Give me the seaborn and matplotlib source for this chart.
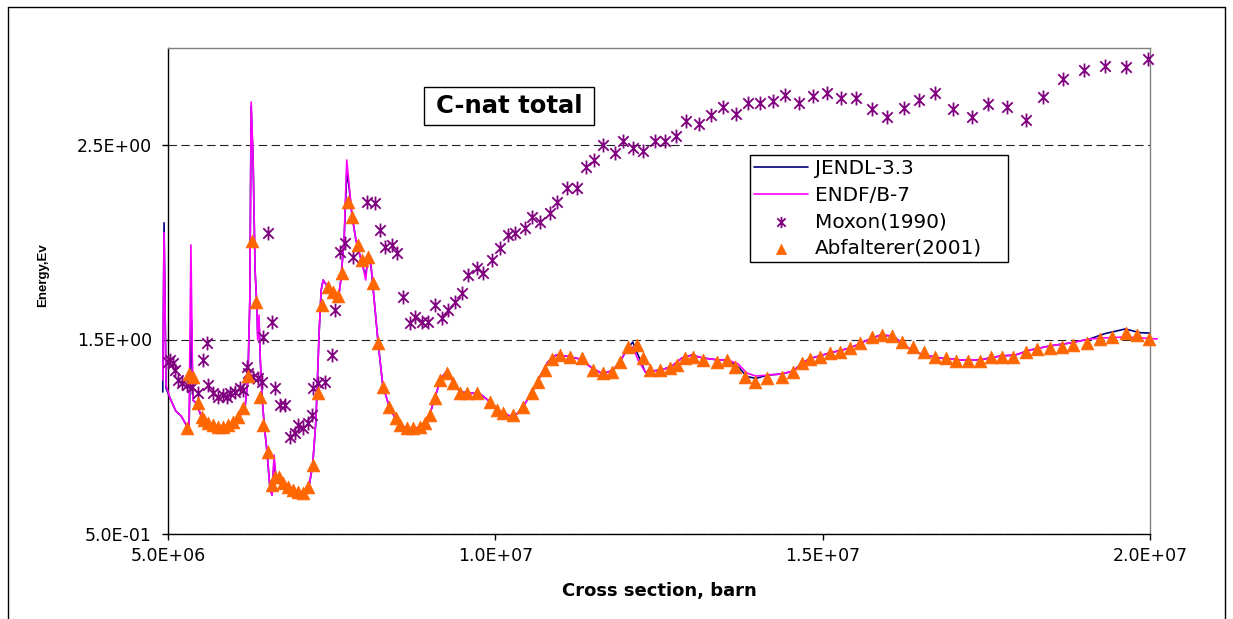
import numpy as np
import matplotlib
matplotlib.use("Agg")
import matplotlib.pyplot as plt
import seaborn as sns
from matplotlib.path import Path
from matplotlib.lines import Line2D
from matplotlib.patches import Rectangle

# ---------------- data (x in units of 1e6) ----------------
endf_x = [4.92, 4.94, 4.97, 5.03, 5.12, 5.20, 5.27, 5.32, 5.35, 5.38, 5.44, 5.50, 5.58, 5.69,
          5.84, 5.99, 6.10, 6.18, 6.22, 6.25, 6.27, 6.30, 6.33, 6.36, 6.37, 6.39, 6.41, 6.44,
          6.47, 6.51, 6.56, 6.59, 6.62, 6.65, 6.76, 6.86, 6.97, 7.08, 7.15, 7.21, 7.26, 7.31,
          7.34, 7.37, 7.44, 7.54, 7.60, 7.64, 7.69, 7.73, 7.76, 7.81, 7.87, 7.93, 7.99, 8.02,
          8.05, 8.10, 8.15, 8.21, 8.28, 8.38, 8.48, 8.62, 8.77, 8.91, 9.00, 9.09, 9.17, 9.25,
          9.34, 9.46, 9.61, 9.77, 9.92, 10.07, 10.22, 10.33, 10.44, 10.56, 10.68, 10.80, 10.93,
          11.08, 11.29, 11.48, 11.64, 11.80, 11.92, 12.01, 12.10, 12.18, 12.29, 12.39, 12.54,
          12.70, 12.85, 13.00, 13.17, 13.40, 13.55, 13.71, 13.84, 13.98, 14.16, 14.38, 14.55,
          14.70, 14.84, 15.11, 15.42, 15.65, 15.88, 16.07, 16.23, 16.37, 16.56, 16.79, 17.10,
          17.40, 17.71, 17.94, 18.17, 18.47, 18.78, 19.08, 19.31, 19.62, 19.85, 20.11]
endf_y = [1.292, 2.050, 1.266, 1.199, 1.132, 1.107, 1.066, 1.035, 1.986, 1.189, 1.168, 1.112,
          1.081, 1.060, 1.045, 1.071, 1.107, 1.163, 1.292, 1.703, 2.721, 2.423, 1.857, 1.652,
          1.497, 1.626, 1.395, 1.189, 1.060, 0.932, 0.726, 0.700, 0.906, 0.788, 0.767, 0.737,
          0.711, 0.701, 0.737, 0.855, 1.086, 1.549, 1.754, 1.806, 1.770, 1.739, 1.703, 1.806,
          2.012, 2.423, 2.320, 2.140, 2.012, 1.934, 1.857, 1.806, 1.909, 1.883, 1.703, 1.482,
          1.266, 1.153, 1.091, 1.045, 1.040, 1.066, 1.117, 1.215, 1.302, 1.333, 1.292, 1.230,
          1.225, 1.220, 1.179, 1.132, 1.107, 1.117, 1.163, 1.230, 1.307, 1.384, 1.420, 1.415,
          1.400, 1.353, 1.323, 1.343, 1.395, 1.446, 1.461, 1.395, 1.333, 1.338, 1.343, 1.364,
          1.405, 1.420, 1.405, 1.395, 1.395, 1.374, 1.328, 1.312, 1.317, 1.323, 1.338, 1.384,
          1.405, 1.431, 1.456, 1.492, 1.523, 1.518, 1.477, 1.441, 1.420, 1.405, 1.395, 1.395,
          1.415, 1.420, 1.446, 1.467, 1.482, 1.503, 1.508, 1.513, 1.508, 1.503]

jendl_x = [4.92, 4.94, 4.97, 5.03, 5.12, 5.20, 5.27, 5.32, 5.36, 5.38, 5.44, 5.50, 5.58, 5.69,
           5.84, 5.99, 6.10, 6.18, 6.22, 6.25, 6.27, 6.30, 6.33, 6.36, 6.37, 6.39, 6.41, 6.44,
           6.47, 6.51, 6.56, 6.59, 6.62, 6.65, 6.76, 6.86, 6.97, 7.08, 7.15, 7.21, 7.26, 7.31,
           7.34, 7.37, 7.44, 7.54, 7.60, 7.64, 7.69, 7.73, 7.76, 7.81, 7.87, 7.93, 7.99, 8.02,
           8.05, 8.10, 8.15, 8.21, 8.28, 8.38, 8.48, 8.62, 8.77, 8.91, 9.00, 9.09, 9.17, 9.25,
           9.34, 9.46, 9.61, 9.77, 9.92, 10.07, 10.22, 10.33, 10.44, 10.56, 10.68, 10.80, 10.93,
           11.08, 11.29, 11.48, 11.64, 11.80, 11.92, 12.01, 12.10, 12.18, 12.29, 12.39, 12.54,
           12.70, 12.85, 13.00, 13.17, 13.40, 13.55, 13.71, 13.84, 13.98, 14.16, 14.38, 14.55,
           14.70, 14.84, 15.11, 15.42, 15.65, 15.88, 16.07, 16.23, 16.37, 16.56, 16.79, 17.10,
           17.40, 17.71, 17.94, 18.17, 18.47, 18.78, 19.08, 19.31, 19.62, 19.85, 20.00]
jendl_y = [1.230, 2.100, 1.250, 1.199, 1.132, 1.107, 1.066, 1.035, 1.600, 1.189, 1.168, 1.112,
           1.081, 1.060, 1.045, 1.071, 1.107, 1.163, 1.292, 1.703, 2.700, 2.423, 1.857, 1.652,
           1.520, 1.600, 1.395, 1.189, 1.060, 0.932, 0.726, 0.700, 0.880, 0.788, 0.767, 0.737,
           0.711, 0.701, 0.737, 0.855, 1.086, 1.549, 1.754, 1.806, 1.770, 1.739, 1.703, 1.806,
           2.012, 2.350, 2.300, 2.140, 2.012, 1.934, 1.857, 1.830, 1.909, 1.883, 1.703, 1.482,
           1.266, 1.153, 1.091, 1.045, 1.040, 1.066, 1.117, 1.215, 1.302, 1.333, 1.292, 1.230,
           1.225, 1.220, 1.179, 1.132, 1.107, 1.117, 1.163, 1.230, 1.307, 1.384, 1.420, 1.415,
           1.400, 1.353, 1.323, 1.343, 1.395, 1.450, 1.487, 1.420, 1.333, 1.338, 1.343, 1.364,
           1.405, 1.420, 1.405, 1.395, 1.395, 1.360, 1.310, 1.300, 1.317, 1.323, 1.338, 1.384,
           1.405, 1.431, 1.456, 1.492, 1.523, 1.518, 1.477, 1.441, 1.420, 1.405, 1.395, 1.395,
           1.415, 1.420, 1.446, 1.467, 1.482, 1.503, 1.530, 1.554, 1.535, 1.533]

moxon_x = [5.00, 5.03, 5.08, 5.11, 5.15, 5.21, 5.29, 5.37, 5.46, 5.53, 5.60, 5.61, 5.69, 5.76,
           5.84, 5.90, 5.95, 6.02, 6.10, 6.15, 6.21, 6.22, 6.30, 6.37, 6.44, 6.45, 6.53, 6.59,
           6.63, 6.71, 6.79, 6.86, 6.94, 6.99, 7.06, 7.14, 7.20, 7.21, 7.29, 7.40, 7.50, 7.55,
           7.63, 7.70, 7.83, 8.04, 8.16, 8.24, 8.31, 8.42, 8.50, 8.59, 8.70, 8.77, 8.88, 8.97,
           9.08, 9.19, 9.28, 9.38, 9.49, 9.58, 9.72, 9.81, 9.95, 10.07, 10.19, 10.30, 10.45,
           10.56, 10.68, 10.83, 10.94, 11.09, 11.25, 11.38, 11.51, 11.64, 11.83, 11.95, 12.10,
           12.26, 12.44, 12.59, 12.76, 12.91, 13.11, 13.29, 13.48, 13.68, 13.86, 14.04, 14.24,
           14.42, 14.64, 14.85, 15.07, 15.28, 15.51, 15.75, 15.98, 16.24, 16.47, 16.72, 16.99,
           17.28, 17.52, 17.82, 18.11, 18.36, 18.67, 18.99, 19.31, 19.63, 19.97]
moxon_y = [1.384, 1.395, 1.379, 1.343, 1.292, 1.276, 1.266, 1.256, 1.225, 1.395, 1.482, 1.266,
           1.225, 1.204, 1.215, 1.204, 1.225, 1.230, 1.251, 1.240, 1.359, 1.328, 1.307, 1.302,
           1.281, 1.513, 2.048, 1.590, 1.251, 1.163, 1.163, 0.999, 1.019, 1.060, 1.045, 1.071,
           1.112, 1.251, 1.276, 1.281, 1.420, 1.652, 1.950, 1.996, 1.924, 2.207, 2.202, 2.063,
           1.976, 1.986, 1.945, 1.719, 1.585, 1.616, 1.590, 1.590, 1.677, 1.611, 1.652, 1.693,
           1.739, 1.832, 1.868, 1.842, 1.909, 1.970, 2.037, 2.048, 2.073, 2.130, 2.104, 2.150,
           2.207, 2.279, 2.279, 2.387, 2.423, 2.500, 2.459, 2.521, 2.485, 2.469, 2.521, 2.521,
           2.546, 2.623, 2.608, 2.654, 2.695, 2.659, 2.716, 2.716, 2.726, 2.757, 2.716, 2.752,
           2.767, 2.742, 2.742, 2.685, 2.644, 2.690, 2.731, 2.767, 2.685, 2.644, 2.711, 2.695,
           2.629, 2.747, 2.839, 2.886, 2.906, 2.901, 2.942]

abf_x = [5.29, 5.32, 5.38, 5.46, 5.52, 5.55, 5.61, 5.69, 5.76, 5.84, 5.92, 5.99, 6.07, 6.15,
         6.22, 6.28, 6.34, 6.41, 6.45, 6.53, 6.59, 6.63, 6.70, 6.76, 6.83, 6.91, 6.99, 7.06,
         7.14, 7.21, 7.29, 7.35, 7.44, 7.52, 7.60, 7.66, 7.75, 7.81, 7.90, 7.96, 8.05, 8.13,
         8.21, 8.28, 8.38, 8.48, 8.54, 8.65, 8.74, 8.85, 8.93, 9.00, 9.08, 9.15, 9.26, 9.35,
         9.46, 9.57, 9.72, 9.92, 10.03, 10.12, 10.27, 10.42, 10.56, 10.65, 10.76, 10.87, 10.99,
         11.14, 11.32, 11.49, 11.64, 11.78, 11.90, 12.03, 12.16, 12.26, 12.36, 12.51, 12.67,
         12.77, 12.90, 13.02, 13.17, 13.39, 13.54, 13.66, 13.81, 13.97, 14.15, 14.38, 14.55,
         14.68, 14.81, 14.96, 15.11, 15.26, 15.42, 15.57, 15.75, 15.91, 16.06, 16.21, 16.38,
         16.55, 16.72, 16.88, 17.04, 17.22, 17.40, 17.57, 17.74, 17.91, 18.11, 18.27, 18.47,
         18.66, 18.82, 19.04, 19.24, 19.42, 19.63, 19.80, 19.98]
abf_y = [1.045, 1.323, 1.307, 1.174, 1.102, 1.086, 1.071, 1.060, 1.050, 1.050, 1.060, 1.076,
         1.102, 1.148, 1.312, 2.006, 1.693, 1.204, 1.060, 0.922, 0.752, 0.793, 0.793, 0.762,
         0.742, 0.726, 0.716, 0.711, 0.742, 0.855, 1.225, 1.677, 1.770, 1.744, 1.724, 1.842,
         2.207, 2.130, 1.986, 1.909, 1.924, 1.790, 1.482, 1.256, 1.153, 1.096, 1.060, 1.045,
         1.045, 1.050, 1.071, 1.112, 1.199, 1.292, 1.328, 1.276, 1.225, 1.225, 1.225, 1.179,
         1.138, 1.122, 1.112, 1.153, 1.225, 1.281, 1.343, 1.400, 1.420, 1.410, 1.405, 1.343,
         1.328, 1.333, 1.384, 1.461, 1.472, 1.405, 1.343, 1.343, 1.353, 1.369, 1.405, 1.410,
         1.395, 1.384, 1.395, 1.359, 1.307, 1.281, 1.302, 1.307, 1.333, 1.379, 1.400, 1.410,
         1.431, 1.436, 1.456, 1.482, 1.513, 1.523, 1.518, 1.487, 1.461, 1.436, 1.410, 1.405,
         1.389, 1.389, 1.389, 1.410, 1.410, 1.410, 1.436, 1.451, 1.456, 1.461, 1.472, 1.482,
         1.503, 1.513, 1.533, 1.523, 1.503]

series_labels = ["JENDL-3.3", "ENDF/B-7", "Moxon(1990)", "Abfalterer(2001)"]
x_ticks = [5.0e6, 1.0e7, 1.5e7, 2.0e7]
x_tick_labels = ["5.0E+06", "1.0E+07", "1.5E+07", "2.0E+07"]
y_ticks = [0.5, 1.5, 2.5]
y_tick_labels = ["5.0E-01", "1.5E+00", "2.5E+00"]
title_text = "C-nat total"
x_label = "Cross section, barn"
y_label = "Energy,Ev"

# ---------------- style ----------------
sns.set_theme(style="white")
plt.rcParams['font.family'] = ['DejaVu Sans']

W, H = 1233, 619
fig = plt.figure(figsize=(W / 100, H / 100), dpi=100)
fig.patch.set_facecolor("white")
ax_l, ax_r, ax_t, ax_b = 168, 1150, 47.75, 534
ax = fig.add_axes([ax_l / W, 1 - ax_b / H, (ax_r - ax_l) / W, (ax_b - ax_t) / H])
ax.set_facecolor("white")

# asterisk marker (X plus vertical bar)
ast = Path([(0, -1), (0, 1), (-0.75, -0.75), (0.75, 0.75), (-0.75, 0.75), (0.75, -0.75)],
           [Path.MOVETO, Path.LINETO, Path.MOVETO, Path.LINETO, Path.MOVETO, Path.LINETO])

sns.lineplot(x=np.array(jendl_x) * 1e6, y=jendl_y, ax=ax, color="#000080", linewidth=1.2,
             estimator=None, sort=False, label=series_labels[0], zorder=2, clip_on=False)
sns.lineplot(x=np.array(endf_x) * 1e6, y=endf_y, ax=ax, color="#FF00FF", linewidth=1.2,
             estimator=None, sort=False, label=series_labels[1], zorder=3, clip_on=False)
sns.scatterplot(x=np.array(moxon_x) * 1e6, y=moxon_y, ax=ax, marker=ast, s=100,
                color="#800080", edgecolor="#800080", linewidth=1.3,
                label=series_labels[2], zorder=4, clip_on=False)
sns.scatterplot(x=np.array(abf_x) * 1e6, y=abf_y, ax=ax, marker="^", s=85,
                color="#FF6600", edgecolor="#FF6600", linewidth=0.5,
                label=series_labels[3], zorder=5, clip_on=False)

ax.set_xlim(5.0e6, 2.0e7)
ax.set_ylim(0.5, 3.0)
ax.set_xticks(x_ticks)
ax.set_xticklabels(x_tick_labels)
ax.set_yticks(y_ticks)
ax.set_yticklabels(y_tick_labels)
ax.tick_params(axis="both", which="major", bottom=True, left=True, direction="out",
               length=4.5, width=1, color="black", labelcolor="black", labelsize=12.5)
ax.tick_params(axis="y", pad=7)
ax.tick_params(axis="x", pad=5)

ax.set_axisbelow(True)
ax.yaxis.grid(True, color="#222222", linestyle=(0, (7.6, 4.0)), linewidth=0.8)
ax.xaxis.grid(False)

for s in ["top", "right"]:
    ax.spines[s].set_color("#808080")
    ax.spines[s].set_linewidth(1.0)
for s in ["left", "bottom"]:
    ax.spines[s].set_color("black")
    ax.spines[s].set_linewidth(1.0)

ax.set_xlabel(x_label, fontsize=13, fontweight="bold", color="black")
ax.xaxis.set_label_coords(0.5, -0.099)
ax.set_ylabel(y_label, fontsize=9.5, fontweight="bold", color="black",
              family=["Liberation Sans", "DejaVu Sans"])
ax.yaxis.set_label_coords((49 - ax_l) / (ax_r - ax_l), 1 - (275 - ax_t) / (ax_b - ax_t))

# legend
handles, labels = ax.get_legend_handles_labels()
lx0 = (750 - ax_l) / (ax_r - ax_l)
lw_ = (1008 - 750) / (ax_r - ax_l)
ly_top = 1 - (155 - ax_t) / (ax_b - ax_t)
ly_bot = 1 - (280 - ax_t) / (ax_b - ax_t)
leg = ax.legend(handles, labels, loc="upper left",
                bbox_to_anchor=(lx0, ly_bot, lw_, ly_top - ly_bot), mode="expand",
                fontsize=14.4, frameon=True, fancybox=False, edgecolor="black",
                facecolor="white", framealpha=1, borderpad=0.2, labelspacing=0.38,
                handlelength=2.7, handletextpad=0.35, borderaxespad=0, scatterpoints=1,
                markerscale=0.8)
leg.get_frame().set_linewidth(1.0)
leg.set_zorder(10)
for t in leg.get_texts():
    t.set_color("black")

# title box
fig.add_artist(Rectangle((424 / W, 1 - 125 / H), 170 / W, 38 / H, transform=fig.transFigure,
                         facecolor="white", edgecolor="black", linewidth=1.0, zorder=6))
fig.text(509 / W, 1 - 106 / H, title_text, ha="center", va="center", fontsize=17.5,
         fontweight="bold", color="black", zorder=7)

# outer chart frame (top, left, right)
for xs, ys in [([8 / W, 1225 / W], [1 - 7 / H, 1 - 7 / H]),
               ([8 / W, 8 / W], [1 - 7 / H, 0]),
               ([1225 / W, 1225 / W], [1 - 7 / H, 0])]:
    fig.add_artist(Line2D(xs, ys, transform=fig.transFigure, color="black", linewidth=1.0))

fig.savefig("out.png", dpi=100)
